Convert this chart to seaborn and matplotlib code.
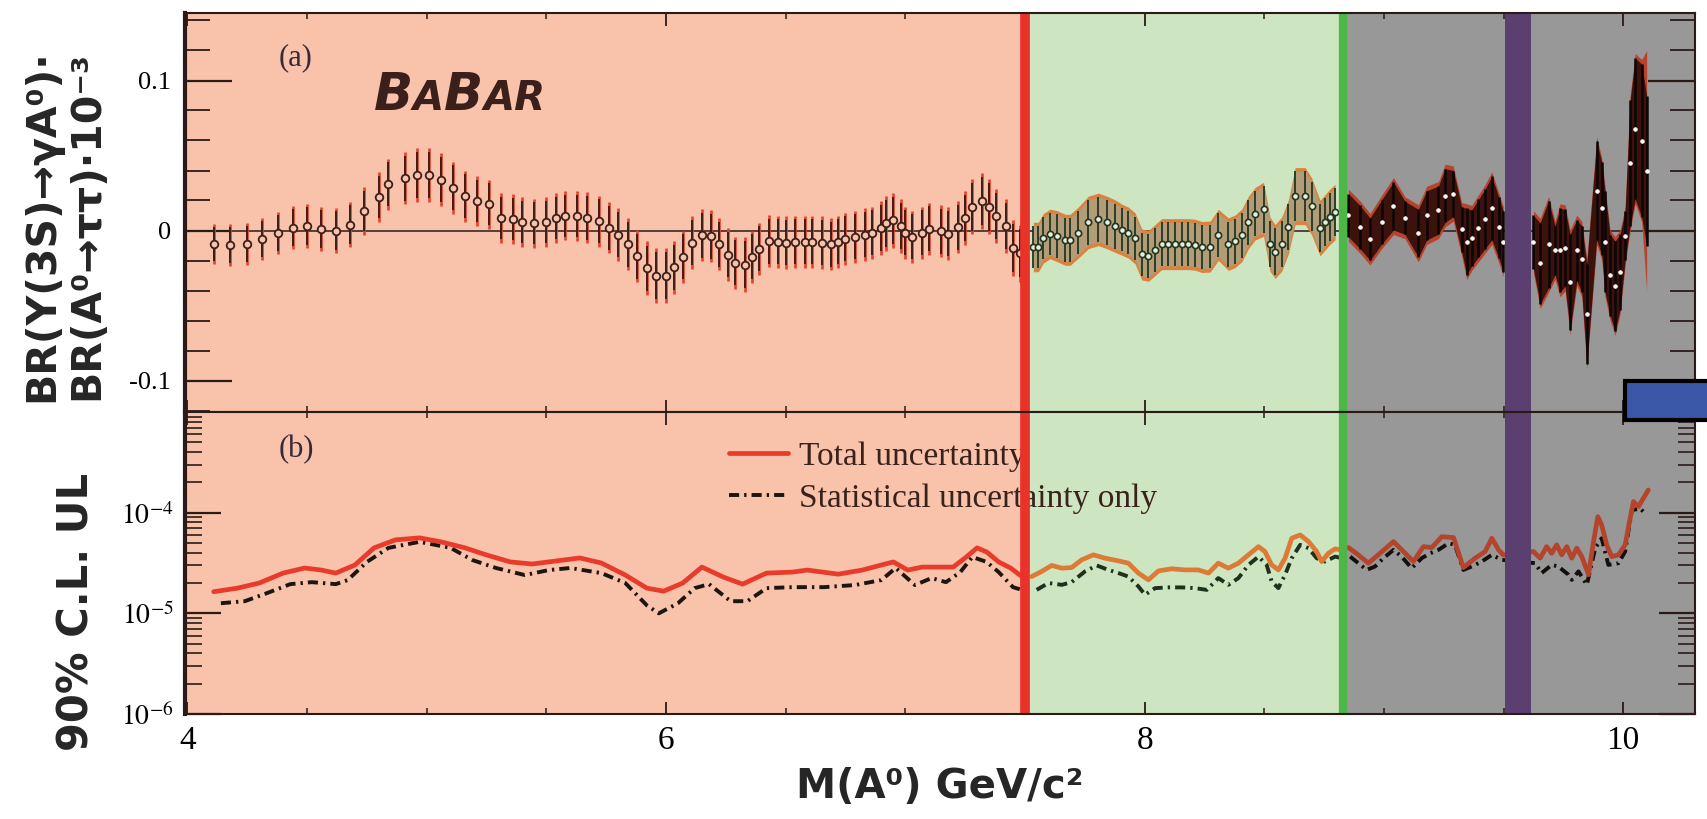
import matplotlib
matplotlib.use("Agg")
import matplotlib.pyplot as plt
import numpy as np
import seaborn as sns
from matplotlib.lines import Line2D
from matplotlib.patches import Rectangle
from matplotlib.offsetbox import TextArea, HPacker, AnnotationBbox
from matplotlib.ticker import (FixedLocator, FixedFormatter, MultipleLocator,
                               LogLocator, NullFormatter)

# ---------------- panel (a): BR product (units of 1e-3) vs A0 mass ----------------
mass_a = [
    4.11, 4.18, 4.25, 4.31, 4.38, 4.44, 4.50, 4.56, 4.62, 4.68,
    4.74, 4.80, 4.84, 4.91, 4.96, 5.01, 5.06, 5.11, 5.16, 5.21,
    5.26, 5.31, 5.36, 5.40, 5.45, 5.50, 5.54, 5.58, 5.63, 5.67,
    5.72, 5.76, 5.80, 5.84, 5.88, 5.92, 5.96, 6.00, 6.035, 6.07,
    6.11, 6.15, 6.19, 6.22, 6.26, 6.29, 6.33, 6.36, 6.39, 6.43,
    6.47, 6.50, 6.54, 6.58, 6.61, 6.65, 6.69, 6.72, 6.75, 6.79,
    6.83, 6.86, 6.90, 6.92, 6.95, 6.98, 7.00, 7.03, 7.07, 7.10,
    7.15, 7.18, 7.22, 7.25, 7.28, 7.32, 7.35, 7.38, 7.42, 7.45,
    7.48,
    7.535, 7.556, 7.577, 7.605, 7.633, 7.668, 7.689, 7.723, 7.765, 7.807,
    7.842, 7.877, 7.904, 7.932, 7.960, 7.988, 8.016, 8.044, 8.071, 8.099,
    8.127, 8.155, 8.183, 8.211, 8.239, 8.274, 8.308, 8.350, 8.378, 8.406,
    8.434, 8.462, 8.497, 8.524, 8.545, 8.573, 8.601, 8.629, 8.671, 8.698,
    8.733, 8.754, 8.775, 8.796,
    8.852, 8.900, 8.942, 8.991, 9.040, 9.088, 9.144, 9.179, 9.228, 9.256,
    9.290, 9.325, 9.346, 9.367, 9.395, 9.423, 9.451, 9.479, 9.499,
    9.625, 9.653, 9.688, 9.715, 9.736, 9.757, 9.778, 9.806, 9.827, 9.848,
    9.889, 9.910, 9.924, 9.945, 9.966, 9.987, 10.008, 10.029, 10.050, 10.077,
    10.098,
]
br_a = [
    -0.0090, -0.0094, -0.0090, -0.0056, -0.0016, 0.0020, 0.0030, 0.0010, 0.0000, 0.0040,
    0.0130, 0.0225, 0.0310, 0.0350, 0.0370, 0.0370, 0.0340, 0.0285, 0.0230, 0.0196,
    0.0174, 0.0085, 0.0078, 0.0056, 0.0047, 0.0056, 0.0085, 0.0100, 0.0096, 0.0085,
    0.0062, 0.0018, -0.0027, -0.0090, -0.0170, -0.0250, -0.0300, -0.0300, -0.0245, -0.0176,
    -0.0080, -0.0030, -0.0038, -0.0090, -0.0160, -0.0216, -0.0227, -0.0176, -0.0123, -0.0071,
    -0.0076, -0.0080, -0.0076, -0.0076, -0.0076, -0.0080, -0.0090, -0.0076, -0.0056, -0.0042,
    -0.0027, -0.0016, 0.0018, 0.0047, 0.0067, 0.0029, -0.0016, -0.0042, -0.0016, 0.0011,
    -0.0004, -0.0020, 0.0022, 0.0085, 0.0160, 0.0196, 0.0160, 0.0096, 0.0029, -0.0116,
    -0.0150,
    -0.0110, -0.0110, -0.0052, -0.0023, -0.0037, -0.0062, -0.0062, -0.0014, 0.0054, 0.0074,
    0.0054, 0.0029, 0.0006, -0.0014, -0.0052, -0.0159, -0.0169, -0.0130, -0.0091, -0.0091,
    -0.0091, -0.0091, -0.0091, -0.0095, -0.0110, -0.0107, -0.0029, -0.0091, -0.0072, -0.0033,
    0.0054, 0.0112, 0.0141, -0.0091, -0.0140, -0.0091, 0.0025, 0.0229, 0.0229, 0.0161,
    0.0016, 0.0054, 0.0093, 0.0122,
    0.0101, 0.0023, -0.0058, 0.0058, 0.0163, 0.0085, -0.0019, 0.0101, 0.0136, 0.0233,
    0.0246, 0.0008, -0.0074, -0.0050, 0.0014, 0.0078, 0.0149, 0.0023, -0.0074,
    -0.0078, -0.0219, -0.0093, -0.0132, -0.0132, -0.0116, -0.0345, -0.0132, -0.0190, -0.0555,
    0.0266, 0.0149, -0.0074, -0.0297, -0.0370, -0.0277, -0.0035, 0.0450, 0.0680, 0.0600,
    0.0400,
]
stat_a = [
    0.0115, 0.0120, 0.0120, 0.0120, 0.0120, 0.0125, 0.0125, 0.0125, 0.0130, 0.0130,
    0.0135, 0.0140, 0.0145, 0.0150, 0.0155, 0.0155, 0.0150, 0.0150, 0.0145, 0.0140,
    0.0140, 0.0140, 0.0140, 0.0140, 0.0140, 0.0140, 0.0140, 0.0140, 0.0140, 0.0145,
    0.0145, 0.0145, 0.0150, 0.0150, 0.0150, 0.0150, 0.0155, 0.0155, 0.0150, 0.0150,
    0.0150, 0.0150, 0.0150, 0.0150, 0.0150, 0.0150, 0.0155, 0.0150, 0.0150, 0.0150,
    0.0150, 0.0150, 0.0150, 0.0150, 0.0150, 0.0150, 0.0150, 0.0150, 0.0150, 0.0150,
    0.0150, 0.0150, 0.0155, 0.0155, 0.0155, 0.0155, 0.0150, 0.0150, 0.0150, 0.0150,
    0.0150, 0.0150, 0.0150, 0.0155, 0.0160, 0.0160, 0.0160, 0.0155, 0.0155, 0.0160,
    0.0160,
    0.0140, 0.0140, 0.0140, 0.0140, 0.0145, 0.0145, 0.0145, 0.0145, 0.0150, 0.0150,
    0.0150, 0.0150, 0.0145, 0.0145, 0.0145, 0.0145, 0.0145, 0.0145, 0.0145, 0.0145,
    0.0145, 0.0145, 0.0145, 0.0145, 0.0145, 0.0145, 0.0145, 0.0150, 0.0150, 0.0150,
    0.0150, 0.0150, 0.0155, 0.0155, 0.0155, 0.0155, 0.0155, 0.0165, 0.0165, 0.0165,
    0.0160, 0.0160, 0.0160, 0.0160,
    0.0144, 0.0144, 0.0141, 0.0148, 0.0160, 0.0110, 0.0160, 0.0164, 0.0160, 0.0179,
    0.0154, 0.0148, 0.0222, 0.0187, 0.0193, 0.0199, 0.0212, 0.0203, 0.0203,
    0.0179, 0.0270, 0.0290, 0.0164, 0.0280, 0.0257, 0.0319, 0.0203, 0.0222, 0.0335,
    0.0329, 0.0309, 0.0338, 0.0270, 0.0300, 0.0251, 0.0164, 0.0420, 0.0470, 0.0510,
    0.0500,
]
tot_a = [
    0.0135, 0.0140, 0.0140, 0.0140, 0.0140, 0.0145, 0.0145, 0.0145, 0.0150, 0.0150,
    0.0160, 0.0165, 0.0170, 0.0175, 0.0180, 0.0180, 0.0175, 0.0175, 0.0170, 0.0165,
    0.0165, 0.0165, 0.0165, 0.0165, 0.0165, 0.0165, 0.0165, 0.0165, 0.0165, 0.0170,
    0.0170, 0.0170, 0.0175, 0.0175, 0.0175, 0.0178, 0.0182, 0.0182, 0.0178, 0.0175,
    0.0175, 0.0175, 0.0175, 0.0175, 0.0175, 0.0175, 0.0182, 0.0175, 0.0175, 0.0175,
    0.0175, 0.0175, 0.0175, 0.0175, 0.0175, 0.0175, 0.0175, 0.0175, 0.0175, 0.0175,
    0.0175, 0.0175, 0.0180, 0.0182, 0.0182, 0.0180, 0.0175, 0.0175, 0.0175, 0.0175,
    0.0175, 0.0175, 0.0175, 0.0180, 0.0186, 0.0188, 0.0186, 0.0182, 0.0182, 0.0188,
    0.0190,
    0.0165, 0.0165, 0.0165, 0.0165, 0.0170, 0.0170, 0.0170, 0.0170, 0.0175, 0.0175,
    0.0175, 0.0175, 0.0170, 0.0170, 0.0170, 0.0170, 0.0170, 0.0170, 0.0170, 0.0170,
    0.0170, 0.0170, 0.0170, 0.0170, 0.0170, 0.0170, 0.0170, 0.0175, 0.0175, 0.0175,
    0.0175, 0.0175, 0.0180, 0.0180, 0.0180, 0.0180, 0.0180, 0.0190, 0.0190, 0.0190,
    0.0185, 0.0185, 0.0185, 0.0185,
    0.0174, 0.0174, 0.0171, 0.0178, 0.0190, 0.0140, 0.0190, 0.0194, 0.0190, 0.0209,
    0.0184, 0.0178, 0.0252, 0.0217, 0.0223, 0.0229, 0.0242, 0.0233, 0.0233,
    0.0209, 0.0300, 0.0320, 0.0194, 0.0310, 0.0287, 0.0349, 0.0233, 0.0252, 0.0365,
    0.0359, 0.0339, 0.0368, 0.0300, 0.0330, 0.0281, 0.0194, 0.0450, 0.0500, 0.0540,
    0.0800,
]

# ---------------- panel (b): 90% C.L. upper limits ----------------
mass_ul_tot = [
    4.11, 4.21, 4.30, 4.40, 4.49, 4.56, 4.62, 4.70, 4.78, 4.87,
    4.97, 5.06, 5.16, 5.25, 5.35, 5.44, 5.54, 5.64, 5.73, 5.83,
    5.92, 5.99, 6.07, 6.15, 6.24, 6.32, 6.42, 6.53, 6.59, 6.72,
    6.82, 6.90, 6.95, 7.01, 7.07, 7.20, 7.25, 7.30, 7.34, 7.39,
    7.44, 7.49,
    7.528, 7.570, 7.612, 7.654, 7.695, 7.737, 7.786, 7.835, 7.891, 7.932,
    7.974, 8.016, 8.058, 8.113, 8.169, 8.225, 8.267, 8.308, 8.350, 8.392,
    8.434, 8.476, 8.503, 8.531, 8.559, 8.587, 8.615, 8.650, 8.685, 8.719,
    8.740, 8.768, 8.796, 8.820,
    8.852, 8.893, 8.935, 8.984, 9.040, 9.089, 9.123, 9.165, 9.200, 9.242,
    9.291, 9.332, 9.381, 9.423, 9.451, 9.479, 9.499,
    9.625, 9.653, 9.680, 9.701, 9.722, 9.743, 9.764, 9.785, 9.806, 9.827,
    9.855, 9.876, 9.894, 9.910, 9.931, 9.952, 9.980, 10.008, 10.029, 10.043,
    10.064, 10.084, 10.105,
]
ul_tot = [
    1.64e-5, 1.78e-5, 2.00e-5, 2.51e-5, 2.82e-5, 2.69e-5, 2.51e-5, 3.02e-5, 4.47e-5, 5.37e-5,
    5.62e-5, 5.13e-5, 4.47e-5, 3.80e-5, 3.24e-5, 3.09e-5, 3.31e-5, 3.55e-5, 3.16e-5, 2.40e-5,
    1.78e-5, 1.66e-5, 2.00e-5, 2.88e-5, 2.29e-5, 1.95e-5, 2.51e-5, 2.57e-5, 2.69e-5, 2.45e-5,
    2.69e-5, 3.02e-5, 3.24e-5, 2.69e-5, 2.88e-5, 2.88e-5, 3.55e-5, 4.47e-5, 4.07e-5, 3.24e-5,
    2.82e-5, 2.29e-5,
    2.32e-5, 2.61e-5, 2.99e-5, 2.81e-5, 2.85e-5, 3.40e-5, 3.81e-5, 3.53e-5, 3.32e-5, 3.15e-5,
    2.51e-5, 2.15e-5, 2.64e-5, 2.77e-5, 2.70e-5, 2.70e-5, 2.51e-5, 3.15e-5, 2.81e-5, 3.15e-5,
    3.81e-5, 4.60e-5, 4.11e-5, 3.03e-5, 2.70e-5, 3.53e-5, 5.57e-5, 6.01e-5, 5.16e-5, 4.11e-5,
    3.27e-5, 3.95e-5, 4.37e-5, 4.27e-5,
    4.50e-5, 3.81e-5, 3.15e-5, 3.95e-5, 5.16e-5, 3.95e-5, 3.27e-5, 4.60e-5, 4.50e-5, 5.78e-5,
    5.65e-5, 2.85e-5, 3.53e-5, 4.11e-5, 5.57e-5, 4.27e-5, 3.81e-5,
    4.11e-5, 3.53e-5, 4.60e-5, 3.95e-5, 4.79e-5, 3.81e-5, 4.60e-5, 3.53e-5, 4.44e-5, 3.66e-5,
    2.42e-5, 5.16e-5, 9.12e-5, 7.55e-5, 4.79e-5, 3.66e-5, 3.81e-5, 4.79e-5, 8.79e-5, 1.29e-4,
    1.15e-4, 1.39e-4, 1.68e-4,
]
mass_ul_stat = [
    4.14, 4.24, 4.33, 4.43, 4.52, 4.62, 4.67, 4.75, 4.84, 4.97,
    5.10, 5.19, 5.29, 5.41, 5.51, 5.60, 5.73, 5.83, 5.92, 5.97,
    6.05, 6.12, 6.18, 6.27, 6.34, 6.42, 6.53, 6.66, 6.79, 6.90,
    6.96, 7.04, 7.11, 7.17, 7.23, 7.28, 7.34, 7.39, 7.45, 7.49,
    7.549, 7.598, 7.654, 7.695, 7.751, 7.800, 7.849, 7.891, 7.932, 7.974,
    8.002, 8.044, 8.099, 8.155, 8.211, 8.260, 8.308, 8.350, 8.392, 8.434,
    8.476, 8.510, 8.531, 8.559, 8.587, 8.615, 8.650, 8.685, 8.719, 8.754,
    8.796, 8.820,
    8.859, 8.893, 8.928, 8.963, 8.998, 9.040, 9.074, 9.116, 9.158, 9.193,
    9.228, 9.270, 9.297, 9.332, 9.367, 9.409, 9.451, 9.492,
    9.632, 9.659, 9.701, 9.729, 9.771, 9.785, 9.813, 9.848, 9.883, 9.910,
    9.938, 9.980, 10.008, 10.036, 10.071, 10.098,
]
ul_stat = [
    1.26e-5, 1.32e-5, 1.58e-5, 1.95e-5, 2.04e-5, 1.95e-5, 2.14e-5, 3.24e-5, 4.47e-5, 5.13e-5,
    4.47e-5, 3.39e-5, 2.82e-5, 2.40e-5, 2.69e-5, 2.82e-5, 2.51e-5, 2.00e-5, 1.20e-5, 1.00e-5,
    1.26e-5, 1.78e-5, 1.95e-5, 1.32e-5, 1.32e-5, 1.78e-5, 1.82e-5, 1.82e-5, 1.91e-5, 2.14e-5,
    2.82e-5, 1.91e-5, 2.24e-5, 2.04e-5, 2.57e-5, 3.63e-5, 3.24e-5, 2.57e-5, 1.82e-5, 1.70e-5,
    1.71e-5, 2.00e-5, 1.92e-5, 2.04e-5, 2.61e-5, 2.99e-5, 2.70e-5, 2.51e-5, 2.32e-5, 1.85e-5,
    1.53e-5, 1.78e-5, 1.81e-5, 1.81e-5, 1.78e-5, 1.71e-5, 2.24e-5, 1.92e-5, 2.24e-5, 3.03e-5,
    3.66e-5, 3.03e-5, 2.07e-5, 1.78e-5, 2.42e-5, 3.53e-5, 4.79e-5, 4.44e-5, 3.53e-5, 3.27e-5,
    3.66e-5, 3.55e-5,
    3.66e-5, 3.15e-5, 2.70e-5, 2.92e-5, 3.53e-5, 4.27e-5, 3.66e-5, 2.81e-5, 3.53e-5, 3.95e-5,
    4.27e-5, 4.97e-5, 4.79e-5, 2.70e-5, 2.92e-5, 3.27e-5, 3.81e-5, 3.40e-5,
    3.15e-5, 2.51e-5, 3.03e-5, 2.92e-5, 2.42e-5, 2.15e-5, 2.61e-5, 1.92e-5, 4.44e-5, 5.57e-5,
    3.03e-5, 3.15e-5, 4.11e-5, 1.06e-4, 1.10e-4, 9.48e-5,
]

# ---------------- ticks, labels, highlighted mass ranges ----------------
x_ticks = [4, 6, 8, 10]
x_tick_labels = ["4", "6", "8", "10"]
ya_ticks = [-0.1, 0.0, 0.1]
ya_tick_labels = ["-0.1", "0", "0.1"]
yb_ticks = [1e-6, 1e-5, 1e-4]
yb_tick_labels = [r"$10^{-6}$", r"$10^{-5}$", r"$10^{-4}$"]
legend_labels = ["Total uncertainty", "Statistical uncertainty only"]
region_edges = [7.5, 8.83]
excluded_band = [9.508, 9.616]

# ---------------- style ----------------
sns.set_theme(style="ticks")
plt.rcParams["font.family"] = ["DejaVu Sans"]
plt.rcParams["mathtext.fontset"] = "stix"

INK = "#2a1a18"
region_bg = ["#f8c3aa", "#cde5c1", "#989898"]
ul_tot_col = ["#e83b2b", "#dc7a36", "#b5442c"]
ul_stat_col = ["#1e1410", "#1f301d", "#140e0c"]
DASHDOT = (0, (2.6, 1.3, 0.6, 1.3))

W, H = 1708, 819
fig = plt.figure(figsize=(W / 100, H / 100), dpi=100)


def fig_box(x0, y0, x1, y1):
    return [x0 / W, 1 - y1 / H, (x1 - x0) / W, (y1 - y0) / H]


ax_a = fig.add_axes(fig_box(185, 13, 1695, 412))
ax_b = fig.add_axes(fig_box(185, 412, 1695, 714))

XMIN, XMAX = 3.99, 10.30
spans = [XMIN] + region_edges + [XMAX]
for ax in (ax_a, ax_b):
    for k in range(3):
        ax.axvspan(spans[k], spans[k + 1], color=region_bg[k], lw=0, zorder=0)

# ---- panel (a): measured points with stat (inner) and total (outer) errors ----
ma, ya = np.array(mass_a), np.array(br_a)
sa, ta = np.array(stat_a), np.array(tot_a)
seg_a = np.digitize(ma, region_edges + [excluded_band[0]])
ax_a.axhline(0, color=INK, lw=1.1, zorder=1)

# low-mass range: individual error bars
m = seg_a == 0
ax_a.vlines(ma[m], ya[m] - ta[m], ya[m] + ta[m], color="#e4402c", lw=1.9, zorder=3)
ax_a.vlines(ma[m], ya[m] - sa[m], ya[m] + sa[m], color="#3a1f1a", lw=1.4, zorder=4)
sns.scatterplot(x=ma[m], y=ya[m], ax=ax_a, s=30, color="#f8c3aa",
                edgecolor="#3a1f1a", linewidth=1.3, zorder=5, legend=False)

# middle range: densely scanned, error bars merge into a band
m = seg_a == 1
ax_a.fill_between(ma[m], ya[m] - ta[m], ya[m] + ta[m], color="#d9833e", lw=0, zorder=3)
ax_a.fill_between(ma[m], ya[m] - sa[m], ya[m] + sa[m], color="#b39c78", lw=0, zorder=3)
ax_a.vlines(ma[m], ya[m] - sa[m], ya[m] + sa[m], color="#22361f", lw=1.3, zorder=4)
sns.scatterplot(x=ma[m], y=ya[m], ax=ax_a, s=20, color="#e6efdc",
                edgecolor="#22361f", linewidth=1.2, zorder=5, legend=False)

# high-mass range, on both sides of the excluded band
for seg in (2, 3):
    m = seg_a == seg
    ax_a.fill_between(ma[m], ya[m] - ta[m], ya[m] + ta[m], color="#b8432c", lw=0, zorder=3)
    ax_a.fill_between(ma[m], ya[m] - sa[m], ya[m] + sa[m], color="#3c120c", lw=0, zorder=3)
    ax_a.vlines(ma[m], ya[m] - sa[m], ya[m] + sa[m], color="#0c0606", lw=1.8, zorder=4)
    sns.scatterplot(x=ma[m], y=ya[m], ax=ax_a, s=7, color="#ffffff",
                    edgecolor="#ffffff", linewidth=0.5, zorder=5, legend=False)

# ---- panel (b): upper limits ----
mt, ut = np.array(mass_ul_tot), np.array(ul_tot)
ms, us = np.array(mass_ul_stat), np.array(ul_stat)
reg_t = np.digitize(mt, region_edges)
reg_s = np.digitize(ms, region_edges)
for k in range(3):
    m = reg_s == k
    sns.lineplot(x=ms[m], y=us[m], ax=ax_b, color=ul_stat_col[k], lw=2.8,
                 linestyle=DASHDOT, sort=False, estimator=None, zorder=3)
    m = reg_t == k
    sns.lineplot(x=mt[m], y=ut[m], ax=ax_b, color=ul_tot_col[k], lw=3.4,
                 sort=False, estimator=None, zorder=4)

handles = [Line2D([], [], color=ul_tot_col[0], lw=3.4),
           Line2D([], [], color=ul_stat_col[0], lw=2.8, linestyle=DASHDOT)]
leg = ax_b.legend(handles, legend_labels, loc="upper left",
                  bbox_to_anchor=(0.36, 0.903), frameon=False,
                  prop={"family": "Liberation Serif", "size": 24},
                  handlelength=1.77, handletextpad=0.33, labelspacing=0.35,
                  borderpad=0, borderaxespad=0)
for t in leg.get_texts():
    t.set_color("#3a221c")
leg.set_zorder(6)

# ---- vertical markers spanning both panels ----
for ax in (ax_a, ax_b):
    ax.axvline(region_edges[0], color="#e8322a", lw=7, zorder=10)
    ax.axvline(region_edges[1], color="#4cb646", lw=6, zorder=10)
    ax.axvspan(*excluded_band, color="#5a3f70", lw=0, zorder=10)

# ---- axes formatting ----
for ax in (ax_a, ax_b):
    ax.set_xlim(XMIN, XMAX)
    ax.set_xlabel("")
    ax.set_ylabel("")
    ax.xaxis.set_major_locator(FixedLocator(x_ticks))
    ax.xaxis.set_minor_locator(MultipleLocator(0.5))
    ax.tick_params(which="both", direction="in", top=True, right=True,
                   colors=INK, labelcolor="black")
    ax.tick_params(axis="x", which="major", length=9, width=1.3)
    ax.tick_params(axis="x", which="minor", length=4.5, width=1.1)
    for side, sp in ax.spines.items():
        sp.set_visible(True)
        sp.set_color(INK)
        sp.set_linewidth(3.0 if side == "left" else 1.5)
        sp.set_zorder(11)

ax_a.set_ylim(-0.121, 0.145)
ax_a.yaxis.set_major_locator(FixedLocator(ya_ticks))
ax_a.yaxis.set_major_formatter(FixedFormatter(ya_tick_labels))
ax_a.yaxis.set_minor_locator(MultipleLocator(0.02))
ax_a.tick_params(axis="y", which="major", length=34, width=1.6, pad=10,
                 labelsize=19, labelfontfamily="Liberation Serif")
ax_a.tick_params(axis="y", which="minor", length=18, width=1.3)
ax_a.tick_params(axis="x", labelbottom=False)

ax_b.set_yscale("log")
ax_b.set_ylim(1e-6, 1e-3)
ax_b.yaxis.set_major_locator(FixedLocator(yb_ticks))
ax_b.yaxis.set_major_formatter(FixedFormatter(yb_tick_labels))
ax_b.yaxis.set_minor_locator(LogLocator(base=10, subs=np.arange(2, 10)))
ax_b.yaxis.set_minor_formatter(NullFormatter())
ax_b.tick_params(axis="y", which="major", length=26, width=1.6, pad=8,
                 labelsize=20)
ax_b.tick_params(axis="y", which="minor", length=12, width=1.2)
ax_b.xaxis.set_major_formatter(FixedFormatter(x_tick_labels))
ax_b.tick_params(axis="x", which="major", labelsize=24, pad=8,
                 labelfontfamily="Liberation Serif")

# ---- panel tags and experiment logo ----
tag_style = dict(family="Liberation Serif", fontsize=22, color="#3a2838",
                 ha="center", va="center", zorder=6)
ax_a.text(0.0735, 0.888, "(a)", transform=ax_a.transAxes, **tag_style)
ax_b.text(0.0735, 0.877, "(b)", transform=ax_b.transAxes, **tag_style)

logo_parts = [("B", 37), ("A", 29), ("B", 37), ("AR", 29)]
logo = HPacker(children=[TextArea(s, textprops=dict(
    fontsize=fs, fontweight="bold", fontstyle="italic", color="#3b1f1a",
    family="DejaVu Sans")) for s, fs in logo_parts],
    align="baseline", pad=0, sep=0)
ax_a.add_artist(AnnotationBbox(logo, (0.125, 0.73), xycoords="axes fraction",
                               box_alignment=(0, 0), frameon=False, zorder=6))

# ---- axis titles ----
fig.text(65 / W, 1 - 226 / H, "BR(Υ(3S)→γA⁰)·\nBR(A⁰→ττ)·10⁻³",
         rotation=90, ha="center", va="center", fontsize=29.5,
         fontweight="bold", linespacing=1.15)
fig.text(77 / W, 1 - 612 / H, "90% C.L. UL", rotation=90, ha="center",
         va="center", fontsize=30, fontweight="bold")
fig.text(940 / W, 1 - 787 / H, "M(A⁰) GeV/c²", ha="center", va="center",
         fontsize=29, fontweight="bold")

# ---- marker box at the right edge ----
fig.patches.append(Rectangle((1625 / W, 1 - 420 / H), 100 / W, 39 / H,
                             transform=fig.transFigure, facecolor="#3b57a8",
                             edgecolor="black", lw=3, zorder=20, clip_on=False))

fig.savefig("out.png", dpi=100)
